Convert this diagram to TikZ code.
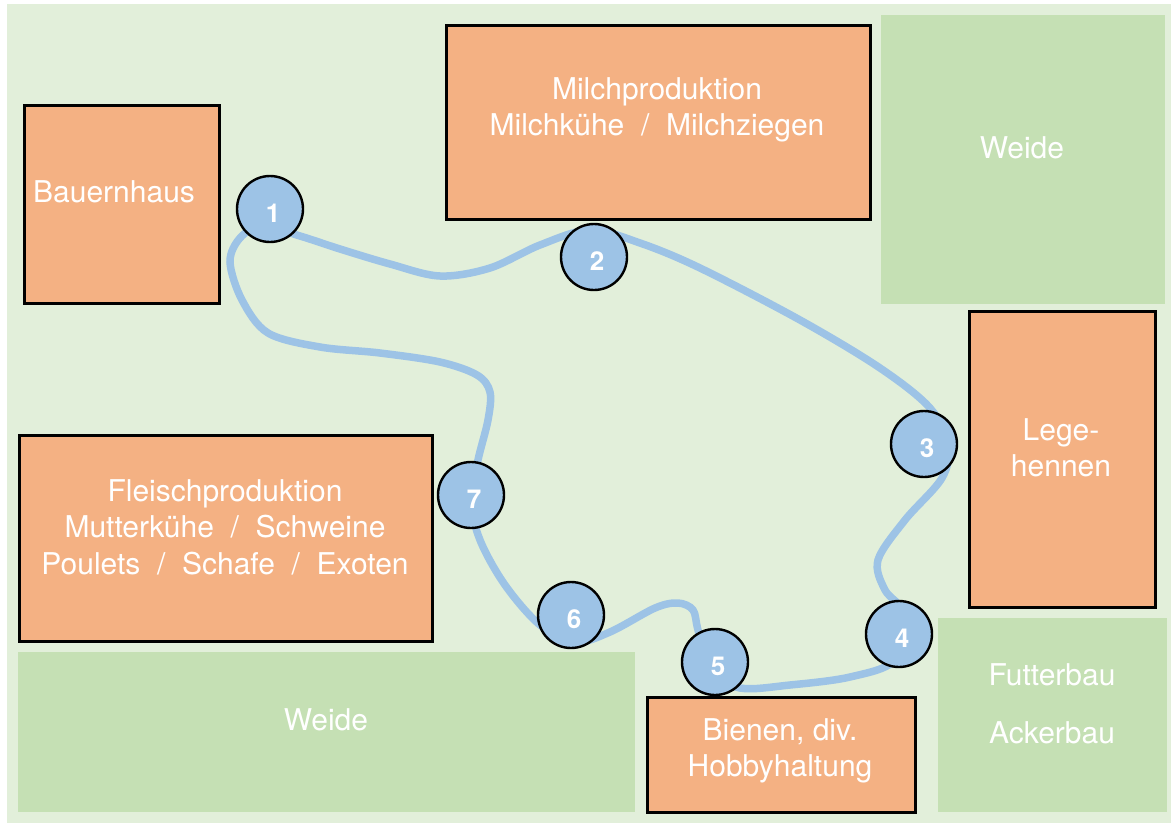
\documentclass[tikz,border=0pt]{standalone}
\usepackage{fontspec}
\setmainfont{TeX Gyre Heros}
\definecolor{bg}{HTML}{E2EFDA}
\definecolor{pasture}{HTML}{C5E0B4}
\definecolor{barn}{HTML}{F4B183}
\definecolor{route}{HTML}{9DC3E6}
\begin{document}
\begin{tikzpicture}[x=1pt,y=-1pt,
  box/.style={draw=black,line width=2.6pt,fill=barn,anchor=north west,inner sep=0pt},
  field/.style={fill=pasture,anchor=north west,inner sep=0pt},
  lbl/.style={text=white,font=\fontsize{30}{36.5}\selectfont,align=center,inner sep=0pt},
  station/.style={circle,draw=black,line width=2.4pt,fill=route,minimum size=66pt,inner sep=0pt},
  num/.style={text=white,font=\fontsize{26}{26}\selectfont\bfseries,inner sep=0pt},
  loop/.style={draw=route,line width=7.5pt}]
\useasboundingbox (0,0) rectangle (1171,823);
\fill[bg] (7,4) rectangle (1171,823);
% fields
\node[field,minimum width=284pt,minimum height=289pt] (weideTR) at (881,15) {};
\node[field,minimum width=617pt,minimum height=160pt] (weideBL) at (18,652) {};
\node[field,minimum width=229pt,minimum height=194pt] (futter) at (938,618) {};
% buildings
\node[box,minimum width=195pt,minimum height=198pt] (haus) at (23,104) {};
\node[box,minimum width=424pt,minimum height=194pt] (milch) at (445,24) {};
\node[box,minimum width=186pt,minimum height=296pt] (lege) at (968,310) {};
\node[box,minimum width=413pt,minimum height=206pt] (fleisch) at (18,434) {};
\node[box,minimum width=268pt,minimum height=115pt] (bienen) at (646,696) {};
% labels
\node[lbl,anchor=west] (tHaus) at (33,192) {Bauernhaus};
\node[lbl] (tMilch) at (657,110) {Milchproduktion\\Milchkühe \ / \ Milchziegen};
\node[lbl] (tLege) at (1061,448) {Lege-\\hennen};
\node[lbl] (tFleisch) at (225,527) {Fleischproduktion\\Mutterkühe \ / \ Schweine\\Poulets \ / \ Schafe \ / \ Exoten};
\node[lbl] (tBienen) at (780,751) {Bienen, div.\\Hobbyhaltung};
\node[lbl] (tWeideTR) at (1022,148) {Weide};
\node[lbl] (tWeideBL) at (326,720) {Weide};
\node[lbl] (tFutter) at (1052,675) {Futterbau};
\node[lbl] (tAcker) at (1052,733) {Ackerbau};
% route
\draw[loop] plot[smooth cycle,tension=0.55] coordinates {
 (262,226) (300,236) (340,249) (390,264) (440,276) (490,268) (540,245)
 (590,230) (640,243) (700,268) (800,320) (880,368) (930,408) (948,445)
 (942,478) (905,520) (878,560) (885,590) (905,615) (895,660) (850,677)
 (790,685) (740,688) (710,670) (698,630) (693,610) (678,603) (655,608)
 (610,632) (575,642) (540,625) (505,585) (480,540) (471,500) (478,460)
 (488,420) (490,392) (477,375) (440,362) (380,353) (320,347) (268,333)
 (242,300) (230,262) (240,238)};
% stations
\foreach \i/\x/\y in {1/270/209,2/594/257,3/924/444,4/899/634,5/715/662,6/571/615,7/471/495}{
  \node[station] (s\i) at (\x,\y) {};
  \node[num] (n\i) at ([xshift=3pt,yshift=-4pt]s\i.center) {\i};
}
\end{tikzpicture}
\end{document}
